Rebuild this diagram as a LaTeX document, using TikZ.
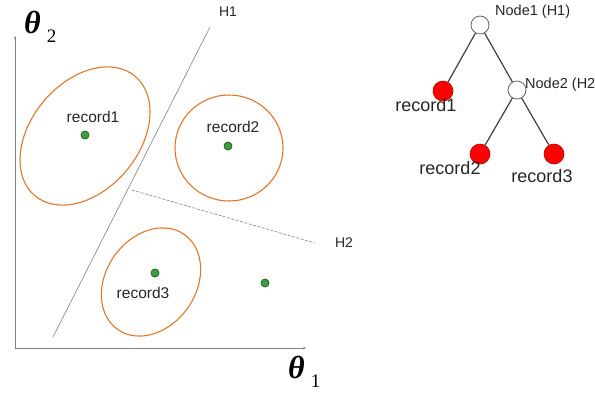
\documentclass[tikz,border=0pt]{standalone}
\usepackage{fontspec}
\setmainfont{Liberation Sans}
\newfontfamily\thetafont{Liberation Serif}
\usetikzlibrary{arrows.meta}
\definecolor{ellcol}{HTML}{E0762A}
\definecolor{dotfill}{HTML}{3F9E3F}
\definecolor{dotline}{HTML}{1F5F1F}
\definecolor{axcol}{HTML}{808080}
\tikzset{
  ell/.style={draw=ellcol, line width=1.1pt},
  pt/.style={circle, fill=dotfill, draw=dotline, line width=0.8pt, inner sep=0pt, minimum size=8pt},
  lbl/.style={font=\fontsize{15.5}{17}\selectfont, text=black!85, inner sep=0pt},
  tlbl/.style={font=\fontsize{18}{20}\selectfont, text=black!85, inner sep=0pt},
  hlbl/.style={font=\fontsize{14}{16}\selectfont, text=black!85, inner sep=0pt},
  nlbl/.style={font=\fontsize{14.5}{16}\selectfont, text=black!85, inner sep=0pt, anchor=west},
  leaf/.style={circle, fill=red, draw=red!70!black, line width=0.6pt, inner sep=0pt, minimum size=20pt},
  inner/.style={circle, fill=white, draw=black!60, line width=0.8pt, inner sep=0pt, minimum size=18pt},
  edge/.style={draw=black!75, line width=1.2pt},
  hyp/.style={draw=axcol, line width=0.6pt},
  axis/.style={draw=axcol, line width=0.7pt, -{Stealth[length=3pt,width=2.5pt]}},
  theta/.style={inner sep=0pt, anchor=base west}
}
\begin{document}
\begin{tikzpicture}[x=1pt,y=-1pt]
\useasboundingbox (0,0) rectangle (595,394);
% axes
\coordinate (O) at (15,348);
\coordinate (Yend) at (15,36);
\coordinate (Xend) at (306,348);
\draw[axis] (O) -- (Yend);
\draw[axis] (O) -- (Xend);
\node[theta] (t2) at (24,33) {\thetafont\fontsize{32}{32}\selectfont\bfseries\itshape θ\hspace{6pt}\raisebox{-9pt}{\upshape\mdseries\fontsize{19}{19}\selectfont 2}};
\node[theta] (t1) at (288,378) {\thetafont\fontsize{32}{32}\selectfont\bfseries\itshape θ\hspace{6pt}\raisebox{-9pt}{\upshape\mdseries\fontsize{19}{19}\selectfont 1}};
% hyperplanes
\coordinate (h1a) at (53,337);
\coordinate (h1b) at (210,27);
\draw[hyp] (h1a) -- (h1b);
\node[hlbl] (H1) at (228,12) {H1};
\coordinate (h2a) at (132,190);
\coordinate (h2b) at (315,243);
\draw[hyp, dash pattern=on 3pt off 1.5pt] (h2a) -- (h2b);
\node[hlbl] (H2) at (344,243) {H2};
% ellipses
\draw[ell, rotate around={50:(85,136)}] (85,136) ellipse [x radius=78, y radius=54];
\draw[ell] (229,148) ellipse [x radius=54, y radius=53];
\draw[ell, rotate around={55:(151,282)}] (151,282) ellipse [x radius=58, y radius=45];
% points
\node[pt] (p1) at (85,135) {};
\node[lbl] (l1) at (93,117) {record1};
\node[pt] (p2) at (228,146) {};
\node[lbl] (l2) at (233,127) {record2};
\node[pt] (p3) at (155,273) {};
\node[lbl] (l3) at (143,293) {record3};
\node[pt] (p4) at (265,283) {};
% tree
\node[inner] (n1) at (480,25) {};
\node[inner] (n2) at (517,90) {};
\node[leaf] (r1) at (443,91) {};
\node[leaf] (r2) at (480,154) {};
\node[leaf] (r3) at (554,154) {};
\draw[edge] (n1) -- (r1);
\draw[edge] (n1) -- (n2);
\draw[edge] (n2) -- (r2);
\draw[edge] (n2) -- (r3);
\node[nlbl] (n1l) at (495,12) {Node1 (H1)};
\node[nlbl] (n2l) at (525,85) {Node2 (H2};
\node[tlbl] (r1l) at (426,105) {record1};
\node[tlbl] (r2l) at (450,168) {record2};
\node[tlbl] (r3l) at (542,176) {record3};
\end{tikzpicture}
\end{document}
